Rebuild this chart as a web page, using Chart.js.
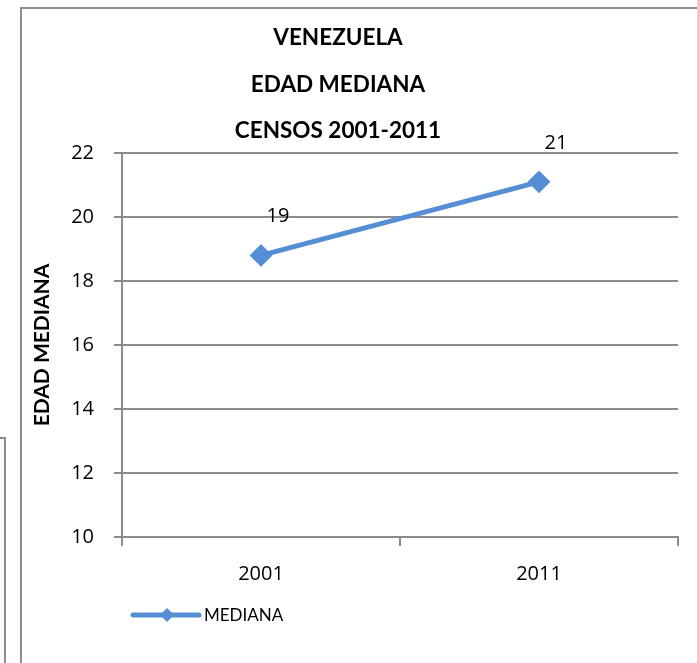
<!DOCTYPE html>
<html>
<head>
<meta charset="utf-8">
<script src="https://cdn.jsdelivr.net/npm/chart.js@4/dist/chart.umd.min.js"></script>
<style>
  html, body { margin: 0; padding: 0; background: #fff; }
  #wrap { width: 697px; height: 663px; }
</style>
</head>
<body>
<div id="wrap"><canvas id="lineChart" width="697" height="663"></canvas></div>
<script>
  // chart data
  const categories = ['2001', '2011'];
  const medianValues = [18.8, 21.1];
  const yTicks = [10, 12, 14, 16, 18, 20, 22];
  const titleLines = ['VENEZUELA', 'EDAD MEDIANA', 'CENSOS 2001-2011'];
  const seriesName = 'MEDIANA';
  const axisTitle = 'EDAD MEDIANA';

  const blue = '#558ed5';
  const gray = '#8c8c8c';

  // frame, title, point labels and legend
  const decor = {
    id: 'decor',
    beforeDraw(chart) {
      const c = chart.ctx;
      c.save();
      c.strokeStyle = gray;
      c.lineWidth = 2;
      c.beginPath();
      c.moveTo(21, 663); c.lineTo(21, 8); c.lineTo(697, 8);
      c.moveTo(0, 438); c.lineTo(5, 438); c.lineTo(5, 663);
      c.stroke();
      c.restore();
    },
    afterDraw(chart) {
      const c = chart.ctx;
      c.save();
      c.fillStyle = '#000';
      c.textAlign = 'center';
      c.textBaseline = 'middle';
      c.font = 'bold 22.5px Lato';
      titleLines.forEach((t, i) => c.fillText(t, 338, 38 + i * 46.5));

      // value labels
      c.font = '20px "Open Sans"';
      c.fillStyle = '#000';
      const meta = chart.getDatasetMeta(0);
      meta.data.forEach((pt, i) => {
        c.fillText(String(Math.round(medianValues[i])), pt.x + 17, pt.y - 39);
      });

      // legend
      c.strokeStyle = blue;
      c.lineWidth = 5;
      c.lineCap = 'round';
      c.beginPath();
      c.moveTo(133, 615); c.lineTo(199, 615);
      c.stroke();
      c.fillStyle = blue;
      c.beginPath();
      c.moveTo(167, 608); c.lineTo(174, 615); c.lineTo(167, 622); c.lineTo(160, 615);
      c.closePath();
      c.fill();
      c.fillStyle = '#000';
      c.textAlign = 'left';
      c.font = '17px Lato';
      c.fillText(seriesName, 204, 616);
      c.restore();
    }
  };

  new Chart(document.getElementById('lineChart'), {
    type: 'line',
    data: {
      labels: categories,
      datasets: [{
        label: seriesName,
        data: medianValues,
        borderColor: blue,
        backgroundColor: blue,
        borderWidth: 5,
        pointStyle: 'rectRot',
        pointRadius: 10,
        pointBorderWidth: 2,
        pointBackgroundColor: blue,
        pointBorderColor: blue,
        tension: 0
      }]
    },
    options: {
      responsive: false,
      animation: false,
      layout: { padding: { top: 153, right: 19, bottom: 76, left: 0 } },
      plugins: {
        legend: { display: false },
        title: { display: false },
        tooltip: { enabled: false }
      },
      scales: {
        x: {
          offset: true,
          grid: { offset: true, drawOnChartArea: false, drawTicks: true, tickLength: 9, color: gray, lineWidth: 2 },
          border: { display: true, color: gray, width: 2 },
          ticks: { color: '#000', font: { family: 'Open Sans', size: 20 }, padding: 16 },
          afterFit(scale) { scale.height = 50; }
        },
        y: {
          min: yTicks[0],
          max: yTicks[yTicks.length - 1],
          ticks: { stepSize: 2, color: '#000', font: { family: 'Open Sans', size: 20 }, padding: 20 },
          grid: { color: gray, lineWidth: 2, tickLength: 8 },
          border: { display: true, color: gray, width: 2 },
          title: {
            display: true,
            text: axisTitle,
            color: '#000',
            font: { family: 'Lato', size: 21, weight: 'bold' },
            padding: { top: 30, bottom: 0 }
          },
          afterFit(scale) { scale.width = 122; }
        }
      }
    },
    plugins: [decor]
  });
</script>
</body>
</html>
